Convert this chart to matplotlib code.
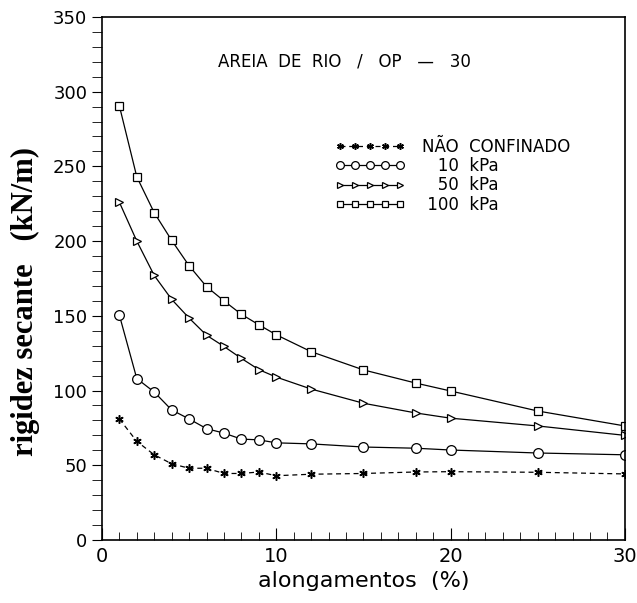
import numpy as np
from matplotlib import pyplot as plt
from matplotlib.ticker import MultipleLocator

# alongamento (%) e rigidez secante (kN/m)
along = [1, 2, 3, 4, 5, 6, 7, 8, 9, 10, 12, 15, 18, 20, 25, 30]
rig_nc = [81, 66, 57, 51, 48, 48, 44.5, 44.5, 45.5, 43, 44, 44.5, 45.5, 45.7, 45.3, 44.2]
rig_10 = [150.5, 108, 99, 87, 81, 74.5, 71.5, 67.5, 67, 65, 64.3, 62.2, 61.4, 60.2, 58.2, 57]
rig_50 = [226, 200, 177, 161, 148.5, 137, 129.5, 121.5, 114, 109, 101, 91.5, 85, 81.5, 76.3, 70]
rig_100 = [290.5, 243, 219, 200.5, 183.5, 169.5, 160, 151, 144, 137.3, 126, 113.8, 105, 99.7, 86.3, 76.3]

labels = ['NÃO  CONFINADO', '   10  kPa', '   50  kPa', ' 100  kPa']
title = 'AREIA  DE  RIO   /   OP   \u2014   30'

fig = plt.figure(figsize=(6.37, 6.03), dpi=100)
ax = fig.add_axes([0.160, 0.1045, 0.821, 0.8675])

ms = 6
ax.plot(along, rig_nc, ls='--', lw=0.9, color='k', marker=(6, 2, 0), ms=ms, mew=1.1,
        dashes=(4, 3), label=labels[0])
ax.plot(along, rig_10, ls='-', lw=0.9, color='k', marker='o', ms=ms + 1, mfc='white',
        mec='k', mew=0.9, label=labels[1])
ax.plot(along, rig_50, ls='-', lw=0.9, color='k', marker='>', ms=ms, mfc='white',
        mec='k', mew=0.9, label=labels[2])
ax.plot(along, rig_100, ls='-', lw=0.9, color='k', marker='s', ms=ms, mfc='white',
        mec='k', mew=0.9, label=labels[3])

ax.set_xlim(0, 30)
ax.set_ylim(0, 350)
ax.xaxis.set_major_locator(MultipleLocator(10))
ax.xaxis.set_minor_locator(MultipleLocator(1))
ax.yaxis.set_major_locator(MultipleLocator(50))
ax.yaxis.set_minor_locator(MultipleLocator(10))
ax.tick_params(axis='x', which='both', direction='in', top=False, labelsize=14, pad=5)
ax.tick_params(axis='x', which='major', length=9)
ax.tick_params(axis='x', which='minor', length=6)
ax.tick_params(axis='y', which='both', direction='out', right=False, length=7, labelsize=13)
for s in ax.spines.values():
    s.set_linewidth(1.2)

ax.set_xlabel('alongamentos  (%)', fontsize=16, labelpad=4)
ax.set_ylabel('rigidez secante   (kN/m)', fontsize=22, fontweight='bold',
              family='Liberation Serif')
ax.yaxis.set_label_coords(-0.118, 0.455)

ax.text(0.463, 0.914, title, transform=ax.transAxes, ha='center', va='center', fontsize=12)

leg = ax.legend(loc='upper left', bbox_to_anchor=(0.43, 0.785), numpoints=5,
                handlelength=4.2, frameon=False, fontsize=12, labelspacing=0.08,
                handletextpad=1.0, borderpad=0, markerscale=0.8)

fig.savefig('out.png', dpi=100)
